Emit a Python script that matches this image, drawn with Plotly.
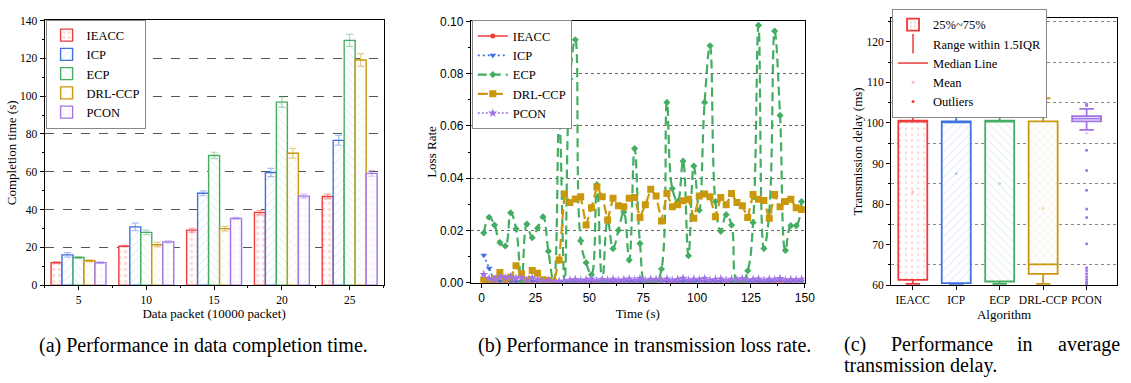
import plotly.graph_objects as go

# ---------------- data ----------------
# (a) completion time
packets = [5, 10, 15, 20, 25]
alg_names = ["IEACC", "ICP", "ECP", "DRL-CCP", "PCON"]
ct_ieacc = [11.9, 20.6, 29.1, 38.4, 46.9]
ct_icp = [16.0, 30.8, 48.6, 59.6, 76.6]
ct_ecp = [14.6, 27.9, 68.6, 96.8, 129.5]
ct_drl = [12.9, 21.4, 29.9, 69.8, 119.1]
ct_pcon = [11.9, 22.9, 35.3, 47.1, 59.1]
err_ieacc = [0.5, 0.4, 1.0, 1.2, 1.3]
err_icp = [1.2, 2.0, 1.3, 2.2, 2.6]
err_ecp = [0.5, 1.2, 1.7, 2.8, 3.2]
err_drl = [0.5, 1.2, 1.2, 2.6, 3.4]
err_pcon = [0.4, 0.5, 0.5, 1.1, 1.5]

# (b) loss rate over time
time_s = [1, 3.5, 6, 8.5, 11, 13.5, 16, 18.5, 21, 23.5, 26, 28.5, 31, 33.5, 36, 38.5,
          41, 43.5, 46, 48.5, 51, 53.5, 56, 58.5, 61, 63.5, 66, 68.5, 71, 73.5, 76, 78.5,
          81, 83.5, 86, 88.5, 91, 93.5, 96, 98.5, 101, 103.5, 106, 108.5, 111, 113.5,
          116, 118.5, 121, 123.5, 126, 128.5, 131, 133.5, 136, 138.5, 141, 143.5, 146, 148.5]
loss_ieacc = [0.0002, 0.0001, 0.0003, 0.0002, 0.0004, 0.0003, 0.0002, 0.0001, 0.0003, 0.0002,
              0.0004, 0.0003, 0.0002, 0.0003, 0.0001, 0.0002, 0.0003, 0.0004, 0.0002, 0.0003,
              0.0002, 0.0001, 0.0003, 0.0002, 0.0004, 0.0003, 0.0005, 0.0003, 0.0002, 0.0004,
              0.0003, 0.0002, 0.0003, 0.0008, 0.0003, 0.0002, 0.0004, 0.0003, 0.0002, 0.0003,
              0.0004, 0.0002, 0.0003, 0.0002, 0.0004, 0.0003, 0.0002, 0.0003, 0.0002, 0.0004,
              0.0003, 0.0002, 0.0003, 0.0002, 0.0004, 0.0003, 0.0002, 0.0003, 0.0005, 0.0003]
loss_icp = [0.0105, 0.0055, 0.0004, 0.0006, 0.0003, 0.0005, 0.0002, 0.0004, 0.0003, 0.0005,
            0.0002, 0.0004, 0.0003, 0.0002, 0.0004, 0.0003, 0.0002, 0.0004, 0.0003, 0.0005,
            0.0002, 0.0003, 0.0004, 0.0002, 0.0003, 0.0005, 0.0002, 0.0004, 0.0003, 0.0002,
            0.0004, 0.0003, 0.0005, 0.0002, 0.0003, 0.0004, 0.0002, 0.0003, 0.0005, 0.0002,
            0.0004, 0.0003, 0.0002, 0.0004, 0.0003, 0.0005, 0.0002, 0.0003, 0.0004, 0.0002,
            0.0003, 0.0005, 0.0002, 0.0004, 0.0003, 0.0012, 0.0004, 0.0003, 0.0005, 0.0003]
loss_ecp = [0.019, 0.025, 0.022, 0.0153, 0.014, 0.0267, 0.0206, 0.0, 0.0224, 0.0172,
            0.0209, 0.0252, 0.012, 0.0, 0.063, 0.0, 0.078, 0.093, 0.016, 0.0076,
            0.003, 0.0375, 0.0, 0.024, 0.013, 0.020, 0.027, 0.0086, 0.0513, 0.015,
            0.0, 0.0005, 0.0, 0.0052, 0.069, 0.036, 0.031, 0.0465, 0.0103, 0.0446,
            0.0277, 0.069, 0.0907, 0.031, 0.0196, 0.026, 0.022, 0.0005, 0.0, 0.0045,
            0.023, 0.0985, 0.013, 0.027, 0.0963, 0.064, 0.0123, 0.0218, 0.0218, 0.031]
loss_drl = [0.0009, 0.0003, 0.0015, 0.0038, 0.0015, 0.002, 0.0064, 0.0033, 0.0008, 0.0046,
            0.0036, 0.0011, 0.0008, 0.0002, 0.0086, 0.0339, 0.0307, 0.032, 0.0329, 0.022,
            0.0286, 0.0366, 0.0329, 0.024, 0.0323, 0.0294, 0.029, 0.0323, 0.0326, 0.0249,
            0.0298, 0.0357, 0.0331, 0.0236, 0.0341, 0.029, 0.0298, 0.0313, 0.0319, 0.0246,
            0.0331, 0.0339, 0.0329, 0.0252, 0.0326, 0.0298, 0.0341, 0.0307, 0.0294, 0.0249,
            0.0337, 0.0319, 0.0314, 0.0246, 0.0337, 0.029, 0.031, 0.0319, 0.0286, 0.028]
loss_pcon = [0.0031, 0.0015, 0.0012, 0.0022, 0.0018, 0.0021, 0.0016, 0.0019, 0.0006, 0.0018,
             0.0012, 0.0004, 0.0008, 0.0003, 0.0004, 0.0006, 0.0009, 0.0012, 0.0008, 0.0011,
             0.0014, 0.0007, 0.0012, 0.0009, 0.0013, 0.0008, 0.0011, 0.0014, 0.0009, 0.0015,
             0.0008, 0.0013, 0.0012, 0.0009, 0.0014, 0.0008, 0.0012, 0.0016, 0.0009, 0.0013,
             0.0011, 0.0015, 0.0009, 0.0012, 0.0014, 0.0008, 0.0013, 0.0011, 0.0015, 0.0009,
             0.0012, 0.0014, 0.0008, 0.0013, 0.0011, 0.0015, 0.0009, 0.0012, 0.0010, 0.0013]

# (c) transmission delay box statistics
box_q1 = [61.3, 60.5, 60.9, 62.8, 100.4]
box_median = [100.5, 100.3, 100.4, 65.1, 101.1]
box_q3 = [100.6, 100.4, 100.6, 100.4, 101.7]
box_low = [60.3, 60.3, 60.3, 60.3, 98.3]
box_high = [103.2, 101.6, 106.0, 106.1, 103.5]
box_mean = [83.0, 87.5, 85.1, 79.0, 97.5]
pcon_outliers = [104.7, 104.3, 93.3, 88.3, 83.4, 78.8, 76.7, 70.2, 64.3, 63.6, 62.8,
                 62.1, 61.4, 60.8, 60.3]

# ---------------- style ----------------
W, H = 1131, 383
SERIF = "Liberation Serif"
SANS = "Liberation Sans"
colors = ["#EE3B3B", "#3F72E0", "#45AD62", "#C9980C", "#A274E8"]
light = ["rgba(238,59,59,0.45)", "rgba(63,114,224,0.45)", "rgba(69,173,98,0.45)",
         "rgba(201,152,12,0.5)", "rgba(162,116,232,0.45)"]
pale = ["rgba(238,59,59,0.35)", "rgba(63,114,224,0.35)", "rgba(69,173,98,0.35)",
        "rgba(201,152,12,0.35)", "rgba(162,116,232,0.35)"]
patterns = [".", "/", "\\", "x", "+"]


def fx(p):
    return p / W


def fy(p):
    return 1 - p / H


fig = go.Figure()

# ---------- panel (a) ----------
ct_all = [ct_ieacc, ct_icp, ct_ecp, ct_drl, ct_pcon]
err_all = [err_ieacc, err_icp, err_ecp, err_drl, err_pcon]
for i, name in enumerate(alg_names):
    fig.add_trace(go.Bar(
        x=packets, y=ct_all[i], name=name, legend="legend",
        xaxis="x", yaxis="y",
        error_y=dict(type="data", array=err_all[i], color=light[i], thickness=1.2, width=3.5),
        marker=dict(color="white", line=dict(color=colors[i], width=1.4),
                    pattern=dict(shape=patterns[i], fgcolor=light[i], bgcolor="white",
                                 size=6, solidity=0.25 if i == 0 else 0.15)),
    ))

# ---------- panel (b) ----------
loss_all = [loss_ieacc, loss_icp, loss_ecp, loss_drl, loss_pcon]
dashes = ["solid", "2px,3px", "9px,5px", "10px,5px", "2px,2px"]
symbols = ["circle", "triangle-down", "diamond", "square", "star"]
msizes = [5, 6, 5.5, 7, 7]
lwidths = [1.5, 1.8, 2.2, 2.2, 1.5]
for i, name in enumerate(alg_names):
    fig.add_trace(go.Scatter(
        x=time_s, y=loss_all[i], name=name, legend="legend2",
        xaxis="x2", yaxis="y2", mode="lines+markers",
        line=dict(color=colors[i], width=lwidths[i], dash=dashes[i],
                  shape="spline" if i == 2 else "linear", smoothing=1.2),
        marker=dict(symbol=symbols[i], size=msizes[i], color=colors[i]),
    ))

# ---------- panel (c) ----------
box_height = [q3 - q1 for q1, q3 in zip(box_q1, box_q3)]
fig.add_trace(go.Bar(
    x=alg_names, y=box_height, base=box_q1, width=0.667, offsetgroup="c",
    xaxis="x3", yaxis="y3", showlegend=False, hoverinfo="skip",
    marker=dict(color="white", line=dict(width=0),
                pattern=dict(shape=patterns, fgcolor=light, bgcolor="white",
                             size=6, solidity=0.15)),
))
for i, name in enumerate(alg_names):
    fig.add_trace(go.Box(
        x=[name], q1=[box_q1[i]], median=[box_median[i]], q3=[box_q3[i]],
        lowerfence=[box_low[i]], upperfence=[box_high[i]],
        width=0.667, whiskerwidth=0.5, boxpoints=False,
        line=dict(color=colors[i], width=1.8), fillcolor="rgba(0,0,0,0)",
        xaxis="x3", yaxis="y3", showlegend=False, name=name,
    ))
fig.add_trace(go.Scatter(
    x=alg_names, y=box_mean, mode="markers", xaxis="x3", yaxis="y3", showlegend=False,
    marker=dict(size=3, color=pale),
))
fig.add_trace(go.Scatter(
    x=[alg_names[4]] * len(pcon_outliers), y=pcon_outliers, mode="markers",
    xaxis="x3", yaxis="y3", showlegend=False,
    marker=dict(size=3, color=colors[4]),
))

# legend entries for panel (c)
fig.add_trace(go.Bar(
    x=[None], y=[None], name="25%~75%", legend="legend3", offsetgroup="c",
    xaxis="x3", yaxis="y3",
    marker=dict(color="white", line=dict(color=colors[0], width=1.8),
                pattern=dict(shape=".", fgcolor=light[0], bgcolor="white", size=5, solidity=0.25)),
))
fig.add_trace(go.Scatter(
    x=[None], y=[None], name="Range within 1.5IQR", legend="legend3", mode="markers",
    xaxis="x3", yaxis="y3",
    marker=dict(symbol="line-ns", size=14, line=dict(color=colors[0], width=1.5)),
))
fig.add_trace(go.Scatter(
    x=[None], y=[None], name="Median Line", legend="legend3", mode="lines",
    xaxis="x3", yaxis="y3", line=dict(color=colors[0], width=1.5),
))
fig.add_trace(go.Scatter(
    x=[None], y=[None], name="Mean", legend="legend3", mode="markers",
    xaxis="x3", yaxis="y3", marker=dict(size=3, color=pale[0]),
))
fig.add_trace(go.Scatter(
    x=[None], y=[None], name="Outliers", legend="legend3", mode="markers",
    xaxis="x3", yaxis="y3", marker=dict(size=3, color=colors[0]),
))

axis_common = dict(showline=True, linecolor="black", linewidth=1, mirror=True,
                   ticks="outside", ticklen=4, tickcolor="black", zeroline=False)
tickfont_serif = dict(family=SERIF, size=11.5, color="black")
title_font = dict(family=SERIF, size=13, color="black")
legend_common = dict(bgcolor="white", bordercolor="#888", borderwidth=1,
                     font=dict(family=SERIF, size=12.5, color="black"),
                     xanchor="left", yanchor="top", tracegroupgap=0)

fig.update_layout(
    width=W, height=H, margin=dict(l=0, r=0, t=0, b=0),
    paper_bgcolor="white", plot_bgcolor="white",
    font=dict(family=SERIF, color="black"),
    barmode="group", bargap=0.19, bargroupgap=0, boxmode="overlay",
    xaxis=dict(domain=[fx(45), fx(387)], anchor="y", range=[2.5, 27.5],
               tickvals=packets, tickfont=tickfont_serif, showgrid=False,
               title=dict(text="Data packet (10000 packet)", font=title_font, standoff=3),
               minor=dict(tick0=2.5, dtick=2.5, ticks="outside", ticklen=2, tickcolor="black"),
               **axis_common),
    yaxis=dict(domain=[fy(288.7), fy(14)], anchor="x", range=[0, 140], dtick=20,
               tickfont=tickfont_serif, showgrid=True, gridcolor="#555", griddash="dash",
               gridwidth=1,
               title=dict(text="Completion time (s)", font=title_font, standoff=0),
               minor=dict(dtick=10, ticks="outside", ticklen=2, tickcolor="black"),
               **axis_common),
    xaxis2=dict(domain=[fx(475), fx(812)], anchor="y2", range=[-5, 150], tick0=0, dtick=25,
                tickfont=dict(family=SANS, size=12, color="black"), showgrid=False,
                title=dict(text="Time (s)", font=title_font, standoff=4),
                minor=dict(dtick=12.5, ticks="outside", ticklen=2, tickcolor="black"),
                **axis_common),
    yaxis2=dict(domain=[fy(286), fy(15)], anchor="x2", range=[0, 0.1], dtick=0.02,
                tickformat=".2f", tickfont=dict(family=SANS, size=12, color="black"),
                showgrid=True, gridcolor="#666", griddash="dot", gridwidth=1,
                title=dict(text="Loss Rate", font=title_font, standoff=0),
                minor=dict(dtick=0.01, ticks="outside", ticklen=2, tickcolor="black"),
                **axis_common),
    xaxis3=dict(domain=[fx(899), fx(1127)], anchor="y3", type="category",
                categoryorder="array", categoryarray=alg_names, range=[-0.5, 4.7],
                tickfont=tickfont_serif, showgrid=False,
                title=dict(text="Algorithm", font=title_font, standoff=4),
                **axis_common),
    yaxis3=dict(domain=[fy(288.7), fy(11)], anchor="x3", range=[60, 126], dtick=10,
                tickfont=tickfont_serif, showgrid=False,
                title=dict(text="Transmission delay (ms)", font=title_font, standoff=0),
                minor=dict(tick0=65, dtick=10, showgrid=True, gridcolor="#888",
                           griddash="dot", gridwidth=1, ticks="outside", ticklen=2,
                           tickcolor="black"),
                **axis_common),
    legend=dict(x=fx(46), y=fy(13), **legend_common),
    legend2=dict(x=fx(476), y=fy(14), **legend_common),
    legend3=dict(x=fx(900), y=fy(2), **legend_common),
)

cap_font = dict(family=SERIF, size=20, color="black")
fig.add_annotation(text="(a) Performance in data completion time.", x=fx(205), y=fy(351),
                   xref="paper", yref="paper", showarrow=False, font=cap_font,
                   xanchor="center", yanchor="middle")
fig.add_annotation(text="(b) Performance in transmission loss rate.", x=fx(650), y=fy(351),
                   xref="paper", yref="paper", showarrow=False, font=cap_font,
                   xanchor="center", yanchor="middle")
for word, xp in [("(c)", 850), ("Performance", 897), ("in", 1024), ("average", 1065)]:
    fig.add_annotation(text=word, x=fx(xp), y=fy(350), xref="paper", yref="paper",
                       showarrow=False, font=cap_font, xanchor="left", yanchor="middle")
fig.add_annotation(text="transmission delay.", x=fx(850), y=fy(372), xref="paper", yref="paper",
                   showarrow=False, font=cap_font, xanchor="left", yanchor="middle")

fig.write_html("out.html")
